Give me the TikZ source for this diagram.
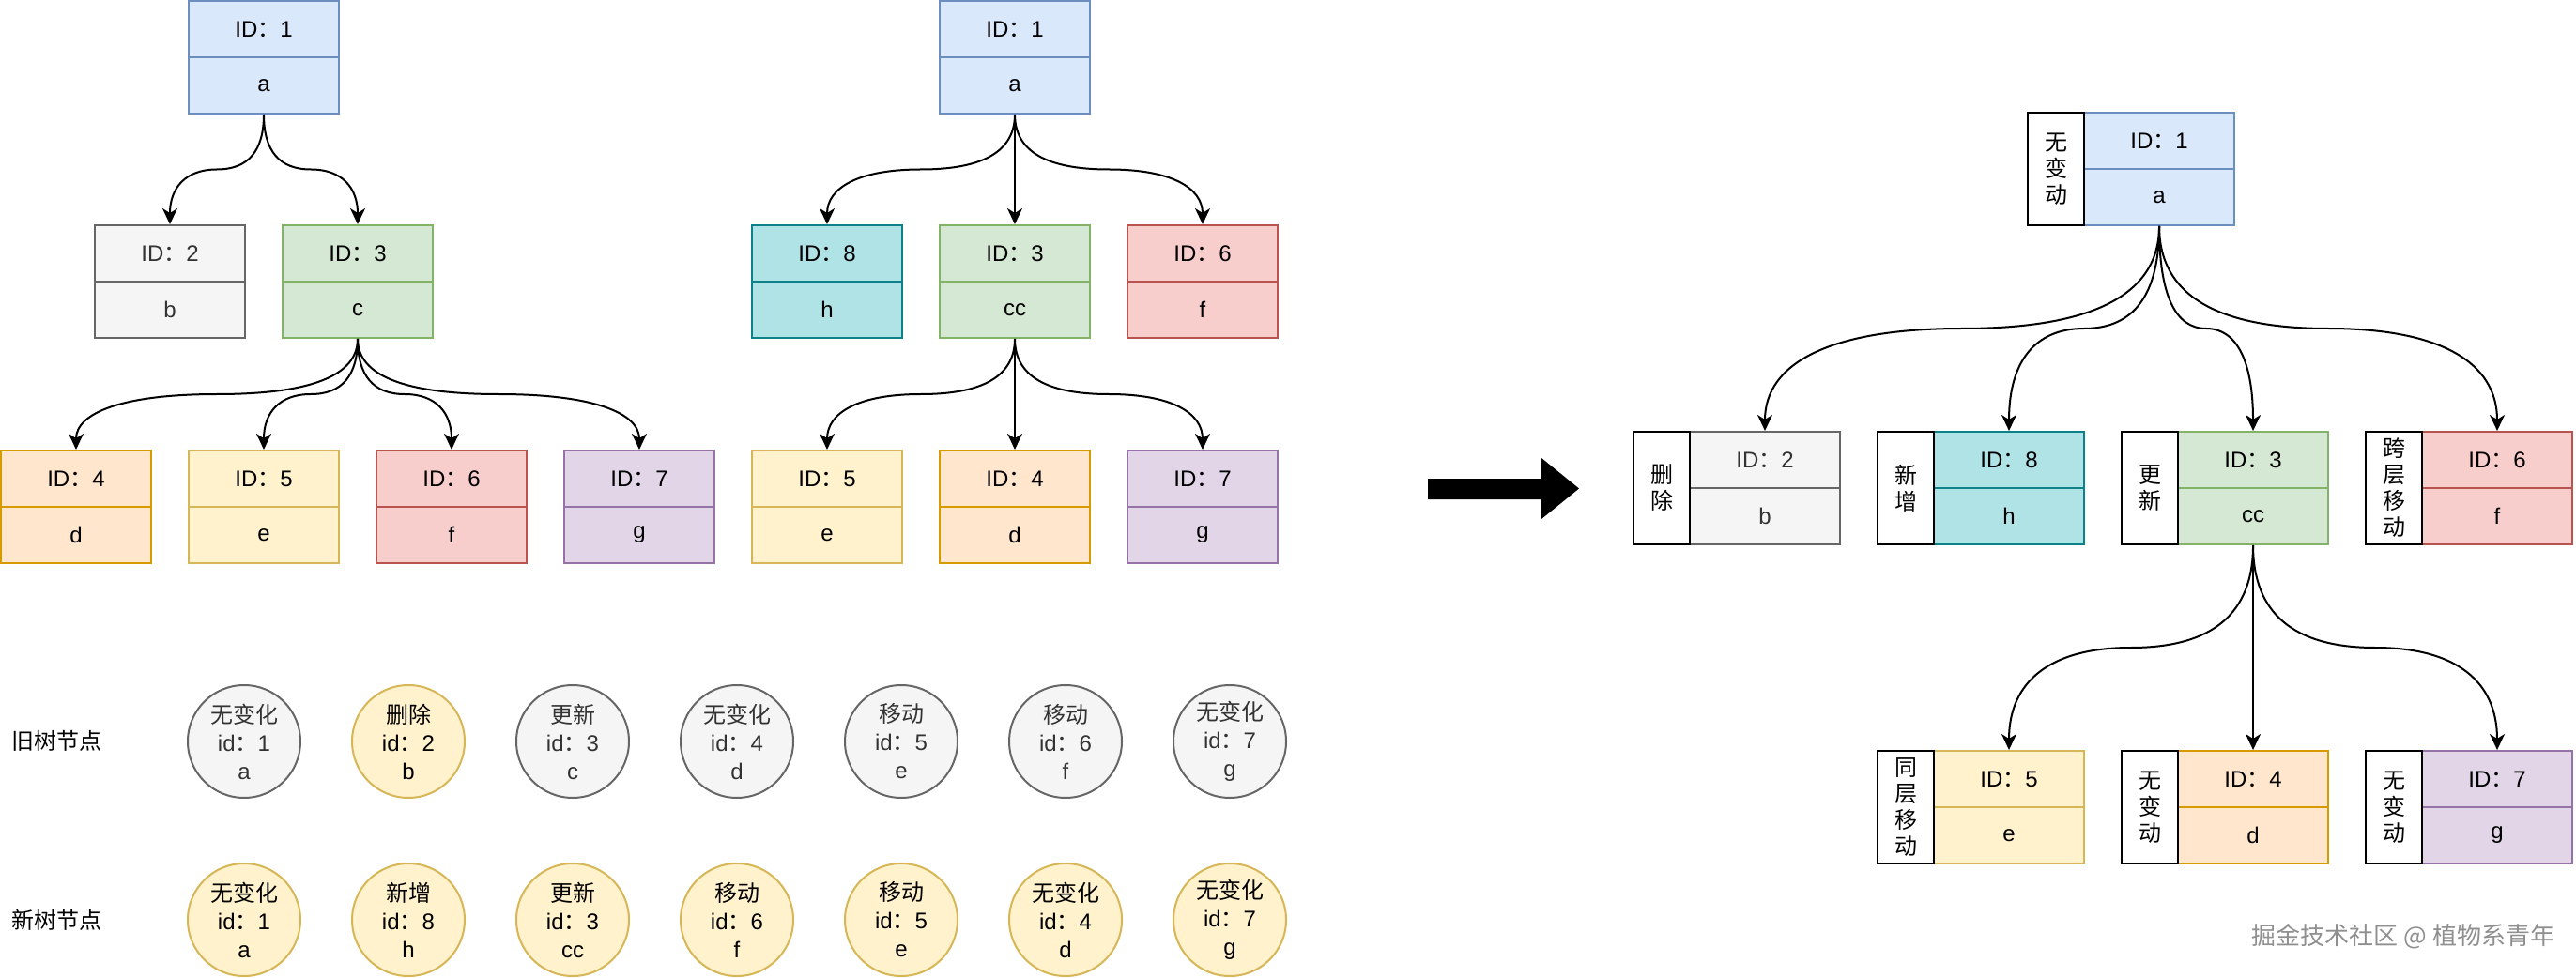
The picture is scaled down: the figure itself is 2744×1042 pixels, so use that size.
\documentclass[tikz,border=0pt]{standalone}
\usepackage{fontspec}
\setmainfont{Liberation Sans}
\newfontfamily\cjk{Noto Sans CJK SC}
\usetikzlibrary{arrows.meta,calc}
\definecolor{bluef}{HTML}{DAE8FC}\definecolor{blued}{HTML}{6C8EBF}
\definecolor{greyf}{HTML}{F5F5F5}\definecolor{greyd}{HTML}{666666}\definecolor{greyt}{HTML}{333333}
\definecolor{greenf}{HTML}{D5E8D4}\definecolor{greend}{HTML}{82B366}
\definecolor{orangef}{HTML}{FFE6CC}\definecolor{oranged}{HTML}{D79B00}
\definecolor{yellowf}{HTML}{FFF2CC}\definecolor{yellowd}{HTML}{D6B656}
\definecolor{redf}{HTML}{F8CECC}\definecolor{redd}{HTML}{B85450}
\definecolor{purplef}{HTML}{E1D5E7}\definecolor{purpled}{HTML}{9673A6}
\definecolor{tealf}{HTML}{B0E3E6}\definecolor{teald}{HTML}{0E8088}
\definecolor{wmark}{HTML}{8F8F8F}
\newcommand\zc{{\cjk ：}}
\newcommand\zh[1]{{\cjk #1}}
\tikzset{
  cell/.style={draw, minimum width=80pt, minimum height=30pt, inner sep=0pt, line width=1pt,
    font=\fontsize{12pt}{14pt}\selectfont},
  cblue/.style={fill=bluef, draw=blued},
  cgrey/.style={fill=greyf, draw=greyd, text=greyt},
  cgreen/.style={fill=greenf, draw=greend},
  corange/.style={fill=orangef, draw=oranged},
  cyellow/.style={fill=yellowf, draw=yellowd},
  cred/.style={fill=redf, draw=redd},
  cpurple/.style={fill=purplef, draw=purpled},
  cteal/.style={fill=tealf, draw=teald},
  lbl/.style={draw=black, fill=white, line width=1.4pt, minimum width=30pt, minimum height=60pt,
    inner sep=0pt, align=center, font=\cjk\fontsize{12pt}{14pt}\selectfont},
  circ/.style={circle, draw, minimum size=60pt, inner sep=0pt, line width=1pt, align=center,
    font=\fontsize{12pt}{15pt}\selectfont},
  rowlabel/.style={font=\cjk\fontsize{12pt}{14pt}\selectfont, inner sep=0pt},
  edge/.style={line width=1pt, -{Stealth[length=8.5pt, width=8pt, inset=2.5pt]}},
}
\newcommand\tbox[6]{%
  \node[cell,#4] (#1t) at (#2,#3+30) {ID\zc #5};
  \node[cell,#4] (#1b) at (#2,#3+90) {#6};}
\newcommand\treeedge[2]{%
  \path ($(#1.south)!0.5!(#2.north)$) coordinate (em);
  \path (#1.south |- em) coordinate (ea);
  \path (#2.north |- em) coordinate (eb);
  \draw[edge] (#1.south) .. controls ($(#1.south)!2/3!(ea)$) and ($(em)!2/3!(ea)$) .. (em)
     .. controls ($(em)!2/3!(eb)$) and ($(#2.north)!2/3!(eb)$) .. (#2.north);}
\begin{document}
\begin{tikzpicture}[x=0.5pt, y=-0.5pt]
\useasboundingbox (0,0) rectangle (2744,1042);
% ---------- old tree ----------
\tbox{o1}{281}{1}{cblue}{1}{a}
\tbox{o2}{181}{240}{cgrey}{2}{b}
\tbox{o3}{381}{240}{cgreen}{3}{c}
\tbox{o4}{81}{480}{corange}{4}{d}
\tbox{o5}{281}{480}{cyellow}{5}{e}
\tbox{o6}{481}{480}{cred}{6}{f}
\tbox{o7}{681}{480}{cpurple}{7}{g}
\treeedge{o1b}{o2t}
\treeedge{o1b}{o3t}
\treeedge{o3b}{o4t}
\treeedge{o3b}{o5t}
\treeedge{o3b}{o6t}
\treeedge{o3b}{o7t}
% ---------- new tree ----------
\tbox{n1}{1081}{1}{cblue}{1}{a}
\tbox{n8}{881}{240}{cteal}{8}{h}
\tbox{n3}{1081}{240}{cgreen}{3}{cc}
\tbox{n6}{1281}{240}{cred}{6}{f}
\tbox{n5}{881}{480}{cyellow}{5}{e}
\tbox{n4}{1081}{480}{corange}{4}{d}
\tbox{n7}{1281}{480}{cpurple}{7}{g}
\treeedge{n1b}{n8t}
\treeedge{n1b}{n3t}
\treeedge{n1b}{n6t}
\treeedge{n3b}{n5t}
\treeedge{n3b}{n4t}
\treeedge{n3b}{n7t}
% ---------- big arrow ----------
\fill[black] (1521,510) -- (1642,510) -- (1642,488) -- (1682,520.5) -- (1642,553) -- (1642,532) -- (1521,532) -- cycle;
% ---------- result tree ----------
\tbox{r1}{2300}{120}{cblue}{1}{a}
\node[lbl] (r1l) at (2190,180) {无\\变\\动};
\tbox{r2}{1880}{460}{cgrey}{2}{b}
\node[lbl] (r2l) at (1770,520) {删\\除};
\tbox{r8}{2140}{460}{cteal}{8}{h}
\node[lbl] (r8l) at (2030,520) {新\\增};
\tbox{r3}{2400}{460}{cgreen}{3}{cc}
\node[lbl] (r3l) at (2290,520) {更\\新};
\tbox{r6}{2660}{460}{cred}{6}{f}
\node[lbl] (r6l) at (2550,520) {跨\\层\\移\\动};
\tbox{r5}{2140}{800}{cyellow}{5}{e}
\node[lbl] (r5l) at (2030,860) {同\\层\\移\\动};
\tbox{r4}{2400}{800}{corange}{4}{d}
\node[lbl] (r4l) at (2290,860) {无\\变\\动};
\tbox{r7}{2660}{800}{cpurple}{7}{g}
\node[lbl] (r7l) at (2550,860) {无\\变\\动};
\treeedge{r1b}{r2t}
\treeedge{r1b}{r8t}
\treeedge{r1b}{r3t}
\treeedge{r1b}{r6t}
\treeedge{r3b}{r5t}
\treeedge{r3b}{r4t}
\treeedge{r3b}{r7t}
% ---------- node lists ----------
\node[rowlabel] (oldlbl) at (60,789) {旧树节点};
\node[rowlabel] (newlbl) at (60,980) {新树节点};
\node[circ, cgrey]   (oc1) at (260,790)  {\zh{无变化}\\id\zc 1\\a};
\node[circ, cyellow] (oc2) at (435,790)  {\zh{删除}\\id\zc 2\\b};
\node[circ, cgrey]   (oc3) at (610,790)  {\zh{更新}\\id\zc 3\\c};
\node[circ, cgrey]   (oc4) at (785,790)  {\zh{无变化}\\id\zc 4\\d};
\node[circ, cgrey]   (oc5) at (960,790)  {\zh{移动}\\id\zc 5\\e};
\node[circ, cgrey]   (oc6) at (1135,790) {\zh{移动}\\id\zc 6\\f};
\node[circ, cgrey]   (oc7) at (1310,790) {\zh{无变化}\\id\zc 7\\g};
\node[circ, cyellow] (nc1) at (260,980)  {\zh{无变化}\\id\zc 1\\a};
\node[circ, cyellow] (nc2) at (435,980)  {\zh{新增}\\id\zc 8\\h};
\node[circ, cyellow] (nc3) at (610,980)  {\zh{更新}\\id\zc 3\\cc};
\node[circ, cyellow] (nc4) at (785,980)  {\zh{移动}\\id\zc 6\\f};
\node[circ, cyellow] (nc5) at (960,980)  {\zh{移动}\\id\zc 5\\e};
\node[circ, cyellow] (nc6) at (1135,980) {\zh{无变化}\\id\zc 4\\d};
\node[circ, cyellow] (nc7) at (1310,980) {\zh{无变化}\\id\zc 7\\g};
% ---------- watermark ----------
\node[text=wmark, font=\cjk\fontsize{13pt}{15pt}\selectfont, inner sep=0pt] (wm) at (2560,998) {掘金技术社区 @ 植物系青年};
\end{tikzpicture}
\end{document}
